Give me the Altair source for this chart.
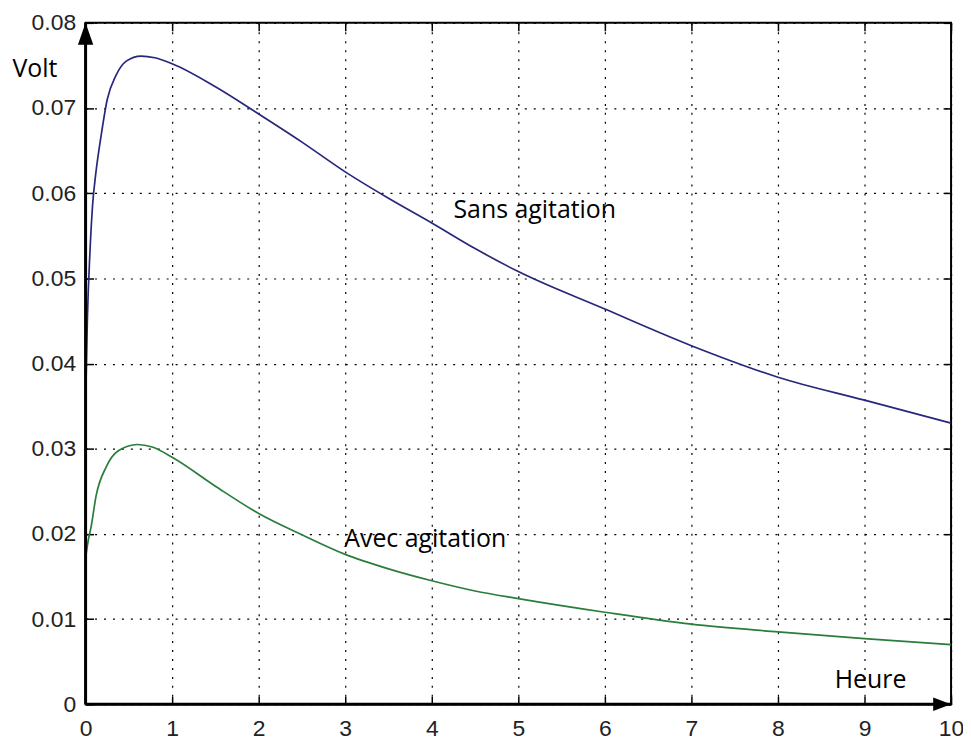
import altair as alt
import pandas as pd

# ---- data ----
sans_x = [0, 0.02, 0.05, 0.08, 0.12, 0.18, 0.25, 0.35, 0.47, 0.64, 0.8, 1.0,
          1.5, 2.0, 2.5, 3.0, 3.5, 4.0, 4.5, 5.0, 6.0, 7.0, 8.0, 9.0, 10.0]
sans_y = [0.0353, 0.045, 0.053, 0.0585, 0.0625, 0.0668, 0.071, 0.0738, 0.0755,
          0.0761, 0.0759, 0.0752, 0.0725, 0.0693, 0.0660, 0.0625, 0.0594,
          0.0565, 0.0535, 0.0508, 0.0464, 0.0421, 0.0384, 0.0357, 0.0330]

avec_x = [0, 0.03, 0.065, 0.12, 0.24, 0.37, 0.6, 0.77, 1.0, 1.5, 2.0, 2.5,
          3.0, 3.5, 4.0, 4.5, 5.0, 6.0, 7.0, 8.0, 9.0, 10.0]
avec_y = [0.0172, 0.0192, 0.0209, 0.0244, 0.0279, 0.0297, 0.0305, 0.0302,
          0.0290, 0.0256, 0.0224, 0.0199, 0.0176, 0.0159, 0.0145, 0.0133,
          0.0124, 0.0108, 0.0094, 0.0085, 0.0077, 0.0070]

series_names = ["Sans agitation", "Avec agitation"]
series_colors = ["#27277c", "#2b7d3c"]

x_ticks = [0, 1, 2, 3, 4, 5, 6, 7, 8, 9, 10]
y_ticks = [0, 0.01, 0.02, 0.03, 0.04, 0.05, 0.06, 0.07, 0.08]

notes_text = ["Volt", "Sans agitation", "Avec agitation", "Heure"]
notes_x = [-0.586, 5.19, 3.925, 9.07]
notes_y = [0.0737, 0.0571, 0.0185, 0.0019]

# ---- tables ----
df = pd.concat([
    pd.DataFrame({"t": sans_x, "v": sans_y, "series": series_names[0]}),
    pd.DataFrame({"t": avec_x, "v": avec_y, "series": series_names[1]}),
], ignore_index=True)

notes = pd.DataFrame({"t": notes_x, "v": notes_y, "label": notes_text})
axes_df = pd.DataFrame({
    "t": [x_ticks[0], x_ticks[0]], "t2": [x_ticks[0], x_ticks[-1]],
    "v": [y_ticks[0], y_ticks[0]], "v2": [y_ticks[-1], y_ticks[0]],
})
up_arrow = pd.DataFrame({"t": [x_ticks[0]], "v": [y_ticks[-1]]})
right_arrow = pd.DataFrame({"t": [x_ticks[-1]], "v": [y_ticks[0]]})

xs = alt.Scale(domain=[x_ticks[0], x_ticks[-1]], nice=False, zero=False)
ys = alt.Scale(domain=[y_ticks[0], y_ticks[-1]], nice=False, zero=False)

LABEL_FONT = "Liberation Sans"
common_axis = dict(
    offset=-8, tickSize=8, tickWidth=1.5, tickColor="black", domain=False,
    title=None, labelFlush=False,
)

lines = alt.Chart(df).mark_line(strokeWidth=1.7, interpolate="monotone").encode(
    x=alt.X("t:Q", scale=xs, axis=alt.Axis(
        orient="bottom", values=x_ticks, labelPadding=13, labelFont=LABEL_FONT,
        labelFontSize=23, labelColor="#222222", grid=True, gridColor="black",
        gridDash=[2, 7], gridWidth=1.2, gridOpacity=1, **common_axis)),
    y=alt.Y("v:Q", scale=ys, axis=alt.Axis(
        orient="left", values=y_ticks, format="~g", labelPadding=10,
        labelFont=LABEL_FONT, labelFontSize=23, labelColor="#222222",
        grid=True, gridColor="black", gridDash=[2, 7], gridWidth=1.2,
        gridOpacity=1, **common_axis)),
    color=alt.Color("series:N", scale=alt.Scale(domain=series_names, range=series_colors),
                    legend=None),
)

ghost = alt.Chart(df).mark_point(opacity=0).encode(
    x=alt.X("t:Q", scale=xs, axis=alt.Axis(
        orient="top", values=x_ticks, labels=False, grid=False, **common_axis)),
    y=alt.Y("v:Q", scale=ys, axis=alt.Axis(
        orient="right", values=y_ticks, labels=False, grid=False, **common_axis)),
)

axis_lines = alt.Chart(axes_df).mark_rule(color="black", strokeWidth=3).encode(
    x=alt.X("t:Q", scale=xs, axis=None), x2="t2:Q",
    y=alt.Y("v:Q", scale=ys, axis=None), y2="v2:Q",
)

arrow_up = alt.Chart(up_arrow).mark_point(
    shape="M0,0 L-0.7,2 L0.7,2 Z", filled=True, color="black", size=484, opacity=1,
).encode(
    x=alt.X("t:Q", scale=xs, axis=None),
    y=alt.Y("v:Q", scale=ys, axis=None),
)

arrow_right = alt.Chart(right_arrow).mark_point(
    shape="M0,0 L-2,-0.75 L-2,0.75 Z", filled=True, color="black", size=324, opacity=1,
).encode(
    x=alt.X("t:Q", scale=xs, axis=None),
    y=alt.Y("v:Q", scale=ys, axis=None),
)

texts = alt.Chart(notes).mark_text(
    font="Open Sans", fontSize=25, color="black", align="center", baseline="alphabetic",
).encode(
    x=alt.X("t:Q", scale=xs, axis=None),
    y=alt.Y("v:Q", scale=ys, axis=None),
    text="label:N",
)

chart = alt.layer(lines, ghost, axis_lines, arrow_up, arrow_right, texts).resolve_axis(
    x="independent", y="independent"
).properties(
    width=870, height=685,
    autosize=alt.AutoSizeParams(type="none"),
    padding={"left": 78, "top": 13, "right": 12, "bottom": 36},
    background="white",
).configure_view(stroke="black", strokeWidth=2)

chart.save("out.html", embed_options={"renderer": "svg", "actions": False})
